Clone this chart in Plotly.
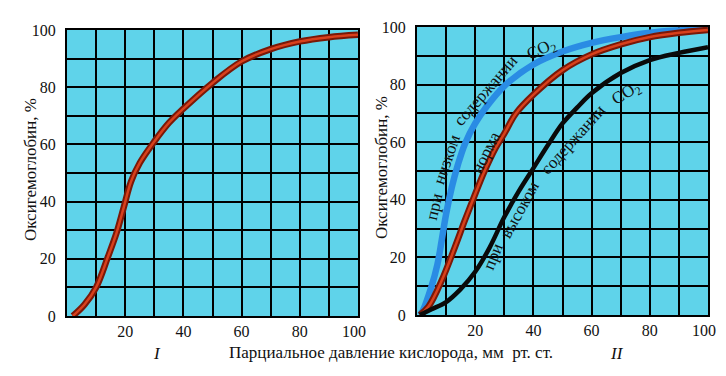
import plotly.graph_objects as go

# ---- data ----
# Panel I: normal curve
p1_x = [2, 6, 10, 14, 17, 19.5, 22, 25, 30, 35, 40, 50, 60, 70, 80, 90, 100]
p1_norm = [0, 4, 10, 20.5, 29, 38, 47, 53.5, 61, 67.5, 72.5, 81.5, 89, 93.3, 96, 97.5, 98.3]

# Panel II
p2_norm_x = [1, 4, 8.5, 13, 16.5, 20, 23, 27, 30, 34, 40, 50, 60, 70, 80, 90, 100]
p2_norm = [0, 3, 12, 23.5, 33, 42, 49.5, 58, 63, 70, 76.5, 85, 90.5, 94, 96.5, 98, 99]

p2_low_x = [1, 2, 5, 7, 8.5, 10, 12, 14, 16.5, 20, 24, 30, 40, 50, 60, 70, 80, 90, 100]
p2_low = [0, 1.5, 10, 17.5, 26, 35, 44.5, 52, 59.5, 66.5, 72.5, 79.5, 87, 91.5, 94.5, 96.5, 98, 98.8, 99.3]

p2_high_x = [1, 5, 10, 15, 20, 25, 30, 35, 40, 45, 50, 55, 60, 70, 80, 90, 100]
p2_high = [0, 2, 4.5, 9, 15, 23.5, 34, 43, 51, 59, 66.5, 72, 77, 84, 88.5, 91, 93]

x_ticks = [20, 40, 60, 80, 100]
x_tick_text = ["20", "40", "60", "80", "100\u00a0\u00a0"]
y_ticks = [0, 20, 40, 60, 80, 100]

y_title = "Оксигемоглобин, %"
x_title = "Парциальное давление кислорода, мм\u00a0\u00a0рт. ст."

FONT = "Liberation Serif"
BG = "#5FD3EA"
# page body has an 8px margin; figure sized so it fits the 726x376 window
OFF = 8
W, H = 710, 360

fig = go.Figure()

def red_curve(x, y, xa, ya):
    fig.add_trace(go.Scatter(x=x, y=y, mode="lines", xaxis=xa, yaxis=ya,
                             line=dict(color="#7A1808", width=6.5, shape="spline", smoothing=1.0),
                             showlegend=False, hoverinfo="skip"))
    fig.add_trace(go.Scatter(x=x, y=y, mode="lines", xaxis=xa, yaxis=ya,
                             line=dict(color="#D8401C", width=2.5, shape="spline", smoothing=1.0),
                             showlegend=False, hoverinfo="skip"))

red_curve(p1_x, p1_norm, "x", "y")

fig.add_trace(go.Scatter(x=p2_low_x, y=p2_low, mode="lines", xaxis="x2", yaxis="y2",
                         line=dict(color="#2A8CE4", width=6.5, shape="spline", smoothing=1.0),
                         showlegend=False, hoverinfo="skip"))
red_curve(p2_norm_x, p2_norm, "x2", "y2")
fig.add_trace(go.Scatter(x=p2_high_x, y=p2_high, mode="lines", xaxis="x2", yaxis="y2",
                         line=dict(color="#0A0A0A", width=4.5, shape="spline", smoothing=1.0),
                         showlegend=False, hoverinfo="skip"))

def px_x(p):
    return (p - OFF) / W

def px_y(p):
    return 1 - (p - OFF) / H

common_x = dict(range=[0, 100], tickmode="array", tickvals=x_ticks, ticktext=x_tick_text,
                automargin=False, ticklabeloverflow="allow",
                showgrid=True, gridcolor="#000", gridwidth=1.8,
                minor=dict(dtick=10, tick0=0, showgrid=True, gridcolor="#000", gridwidth=1.8),
                showline=True, mirror=True, linecolor="#000", linewidth=2,
                zeroline=False, ticks="", ticklen=0, ticklabelstandoff=0,
                tickfont=dict(family=FONT, size=16, color="#111"))
common_y = dict(range=[0, 100], tickmode="array", tickvals=y_ticks,
                automargin=False, ticklabeloverflow="allow",
                showgrid=True, gridcolor="#000", gridwidth=1.8,
                minor=dict(dtick=10, tick0=0, showgrid=True, gridcolor="#000", gridwidth=1.8),
                showline=True, mirror=True, linecolor="#000", linewidth=2,
                zeroline=False, ticks="", ticklen=0, ticklabelstandoff=6,
                tickfont=dict(family=FONT, size=16, color="#111"))

fig.update_layout(
    template="none",
    width=W, height=H, autosize=False,
    margin=dict(l=0, r=0, t=0, b=0, pad=0),
    paper_bgcolor="white", plot_bgcolor=BG,
    font=dict(family=FONT, color="#111"),
    xaxis=dict(common_x, domain=[px_x(67), px_x(358)], anchor="y"),
    yaxis=dict(common_y, domain=[px_y(316), px_y(30)], anchor="x"),
    xaxis2=dict(common_x, domain=[px_x(417), px_x(708)], anchor="y2"),
    yaxis2=dict(common_y, domain=[px_y(315), px_y(27)], anchor="x2"),
)

def paper_text(text, x, y, angle=0, size=17):
    return dict(text=text, xref="paper", yref="paper", x=px_x(x), y=px_y(y),
                xanchor="center", yanchor="middle", textangle=angle, showarrow=False,
                font=dict(family=FONT, size=size, color="#111"))

ann = [
    paper_text(y_title, 31, 170, -90),
    paper_text(y_title, 381, 168, -90),
    paper_text(x_title, 391, 352),
    paper_text("<i>I</i>", 157, 353),
    paper_text("<i>II</i>", 617, 353),
]

# curve labels (per word, following the curves)
labels = [
    ("при", 6.0, 37.6, -77),
    ("низком", 10.2, 54.0, -71),
    ("содержании", 23.6, 78.0, -49),
    ("CO<sub>2</sub>", 43.0, 92.0, -25),
    ("норма", 23.7, 56.3, -63),
    ("при", 26.2, 20.2, -68),
    ("высоком", 35.4, 36.5, -61),
    ("содержании", 53.7, 60.8, -48),
    ("CO<sub>2</sub>", 72.0, 76.6, -32),
]
for t, x, y, a in labels:
    ann.append(dict(text=t, xref="x2", yref="y2", x=x, y=y, textangle=a,
                    xanchor="center", yanchor="middle",
                    showarrow=False, font=dict(family=FONT, size=17, color="#111")))

fig.update_layout(annotations=ann)

fig.write_html("out.html")
